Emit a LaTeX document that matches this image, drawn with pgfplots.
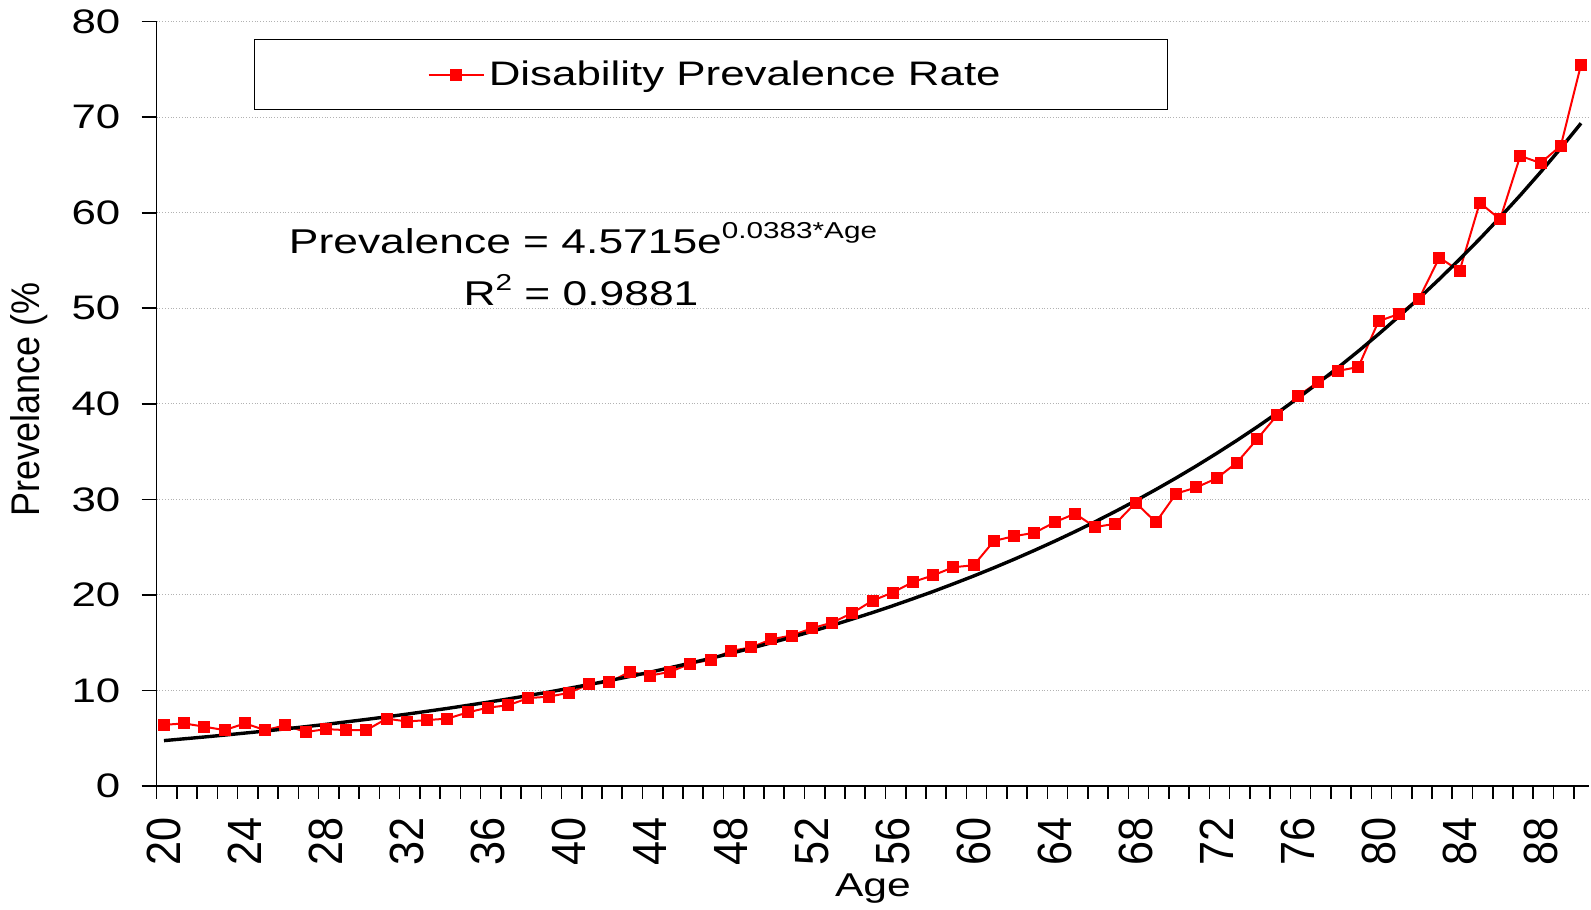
\documentclass[border=0pt]{standalone}
\usepackage{fontspec}
\setmainfont{Liberation Sans}[FakeStretch=1.29]
\newfontfamily\rotfont{Liberation Sans}[FakeStretch=0.9]
\usepackage{pgfplots}
\usepackage{pgfplotstable}
\pgfplotsset{compat=1.18}

% disability prevalence rate by age (%)
\pgfplotstableread{
age prev
20 6.4
21 6.55
22 6.2
23 5.85
24 6.55
25 5.85
26 6.35
27 5.65
28 5.95
29 5.85
30 5.85
31 7.05
32 6.75
33 6.9
34 7.05
35 7.7
36 8.2
37 8.45
38 9.2
39 9.35
40 9.75
41 10.65
42 10.85
43 11.95
44 11.55
45 11.95
46 12.8
47 13.2
48 14.15
49 14.5
50 15.35
51 15.75
52 16.5
53 17.1
54 18.1
55 19.4
56 20.25
57 21.35
58 22.05
59 22.9
60 23.1
61 25.65
62 26.15
63 26.5
64 27.6
65 28.5
66 27.1
67 27.45
68 29.65
69 27.6
70 30.6
71 31.25
72 32.2
73 33.85
74 36.3
75 38.85
76 40.8
77 42.25
78 43.45
79 43.85
80 48.65
81 49.4
82 51.0
83 55.3
84 53.9
85 61.05
86 59.3
87 65.95
88 65.2
89 67.0
90 75.5
}\prevdata

% exponential trend line (values of the fitted curve)
\pgfplotstableread{
age fit
20 4.75
21 4.94
22 5.13
23 5.33
24 5.54
25 5.75
26 5.98
27 6.21
28 6.45
29 6.71
30 6.97
31 7.24
32 7.52
33 7.82
34 8.12
35 8.44
36 8.77
37 9.11
38 9.47
39 9.83
40 10.22
41 10.62
42 11.03
43 11.46
44 11.91
45 12.38
46 12.86
47 13.36
48 13.88
49 14.42
50 14.99
51 15.57
52 16.18
53 16.81
54 17.47
55 18.15
56 18.86
57 19.60
58 20.36
59 21.16
60 21.98
61 22.84
62 23.73
63 24.66
64 25.62
65 26.62
66 27.66
67 28.74
68 29.86
69 31.03
70 32.24
71 33.50
72 34.81
73 36.17
74 37.58
75 39.05
76 40.57
77 42.16
78 43.80
79 45.51
80 47.29
81 49.14
82 51.05
83 53.05
84 55.12
85 57.27
86 59.51
87 61.83
88 64.24
89 66.75
90 69.36
}\fitdata

\begin{document}
\begin{tikzpicture}
\begin{axis}[
  at={(0,0)}, anchor=south west,
  scale only axis,
  width=716.2pt, height=382.2pt,
  xmin=19.64, xmax=90.4,
  ymin=0, ymax=80,
  axis lines*=left,
  axis line style={line width=0.8pt},
  xtick={20,24,...,88},
  minor xtick={19.64,20.64,...,89.64},
  ytick={0,10,...,80},
  tick align=outside,
  major tick length=7.5pt,
  minor tick length=6.3pt,
  tick style={black, line width=0.8pt},
  major x tick style={draw=none},
  ymajorgrids,
  major grid style={gray!60, densely dotted, line width=0.5pt},
  /pgf/number format/assume math mode=true,
  yticklabel style={font=\fontsize{17}{19}\selectfont, inner sep=0pt, anchor=east},
  xticklabel style={font=\rotfont\fontsize{24}{26}\selectfont, rotate=90, anchor=east, inner sep=0pt},
  yticklabel shift=10.5pt,
  xticklabel shift=8pt,
  xlabel={Age},
  xlabel style={at={(axis description cs:0.5,0)}, anchor=base, yshift=-55.5pt, font=\fontsize{16.5}{18}\selectfont},
  ylabel={Prevelance (\%},
  ylabel style={at={(axis description cs:-0.0892,0.352)}, anchor=west, inner sep=0pt, font=\rotfont\fontsize{20}{23}\selectfont},
  legend style={at={(axis description cs:0.0679,0.977)}, anchor=north west, draw=black, line width=0.65pt,
    inner xsep=81.5pt, inner ysep=8.5pt, font=\fontsize{17}{19}\selectfont},
  legend image code/.code={\path (0pt,0pt); \draw[mark repeat=2,mark phase=2,#1] plot coordinates {(5pt,0pt) (18.8pt,0pt) (32.6pt,0pt)};},
]
\addplot[red, line width=1pt, mark=square*, mark size=2.5pt, mark options={solid, fill=red, draw=red}]
  table[x=age, y=prev] {\prevdata};
\addlegendentry{Disability Prevalence Rate}
\addplot[black, line width=1.7pt, forget plot] table[x=age, y=fit] {\fitdata};

\node[anchor=base, font=\fontsize{17.2}{20}\selectfont] at (axis cs:40.7,55.7)
  {Prevalence = 4.5715e\raisebox{7.5pt}{\fontsize{11.5}{13}\selectfont 0.0383*Age}};
\node[anchor=base, font=\fontsize{17.2}{20}\selectfont] at (axis cs:40.6,50.25)
  {R\raisebox{7.5pt}{\fontsize{11.5}{13}\selectfont 2} = 0.9881};
\end{axis}
\pgfresetboundingbox
\path[use as bounding box] (-78.35pt,-62pt) rectangle (717.15pt,393pt);
\end{tikzpicture}
\end{document}
